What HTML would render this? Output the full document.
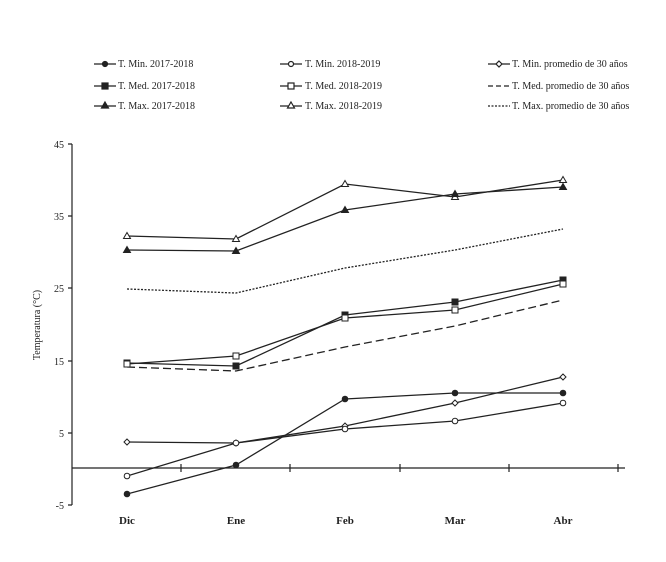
<!DOCTYPE html>
<html><head><style>body{margin:0;background:#fff}</style></head><body>
<svg width="666" height="557" xmlns="http://www.w3.org/2000/svg" font-family="Liberation Serif, serif" fill="none" stroke="#222">
<g font-size="10" fill="#222" stroke="none">
<text x="118" y="67">T. Min. 2017-2018</text><text x="305" y="67">T. Min. 2018-2019</text><text x="512" y="67">T. Min. promedio de 30 años</text>
<text x="118" y="89">T. Med. 2017-2018</text><text x="305" y="89">T. Med. 2018-2019</text><text x="512" y="89">T. Med. promedio de 30 años</text>
<text x="118" y="109">T. Max. 2017-2018</text><text x="305" y="109">T. Max. 2018-2019</text><text x="512" y="109">T. Max. promedio de 30 años</text>
</g>
<g stroke-width="1.2">
<line x1="94" y1="64" x2="116" y2="64"/><circle cx="105" cy="64" r="2.5" fill="#222"/>
<line x1="94" y1="86" x2="116" y2="86"/><rect x="102" y="83" width="6" height="6" fill="#222"/>
<line x1="94" y1="106" x2="116" y2="106"/><path d="M105 102L108.5 108H101.5Z" fill="#222"/>
<line x1="280" y1="64" x2="302" y2="64"/><circle cx="291" cy="64" r="2.5" fill="#fff"/>
<line x1="280" y1="86" x2="302" y2="86"/><rect x="288" y="83" width="6" height="6" fill="#fff"/>
<line x1="280" y1="106" x2="302" y2="106"/><path d="M291 102L294.5 108H287.5Z" fill="#fff"/>
<line x1="488" y1="64" x2="510" y2="64"/><path d="M499 61L502 64L499 67L496 64Z" fill="#fff"/>
<line x1="488" y1="86" x2="510" y2="86" stroke-dasharray="5,3"/>
<line x1="488" y1="106" x2="510" y2="106" stroke-dasharray="2,1.5"/>
</g>
<g stroke-width="1.2">
<line x1="72" y1="144" x2="72" y2="505"/>
<line x1="72" y1="468" x2="625" y2="468"/>
<path d="M68 144H72M68 216H72M68 288H72M68 361H72M68 433H72M68 505H72M181 464V472M290 464V472M400 464V472M509 464V472M618 464V472"/>
</g>
<g font-size="10" fill="#222" stroke="none" text-anchor="end">
<text x="64" y="148">45</text><text x="64" y="220">35</text><text x="64" y="292">25</text><text x="64" y="365">15</text><text x="64" y="437">5</text><text x="64" y="509">-5</text>
</g>
<g font-size="11" fill="#222" stroke="none" text-anchor="middle" font-weight="bold">
<text x="127" y="524">Dic</text><text x="236" y="524">Ene</text><text x="345" y="524">Feb</text><text x="455" y="524">Mar</text><text x="563" y="524">Abr</text>
</g>
<text x="40" y="325" font-size="10" fill="#222" stroke="none" text-anchor="middle" transform="rotate(-90 40 325)">Temperatura (°C)</text>
<g stroke-width="1.3">
<polyline points="127,236 236,239 345,184 455,197 563,180"/>
<polyline points="127,250 236,251 345,210 455,194 563,187"/>
<polyline points="127,289 236,293 345,268 455,250 563,229" stroke-dasharray="2,1.5"/>
<polyline points="127,363 236,366 345,315 455,302 563,280"/>
<polyline points="127,364 236,356 345,318 455,310 563,284"/>
<polyline points="127,367 236,371 345,347 455,326 563,300" stroke-dasharray="8,4"/>
<polyline points="127,442 236,443 345,426 455,403 563,377"/>
<polyline points="127,494 236,465 345,399 455,393 563,393"/>
<polyline points="127,476 236,443 345,429 455,421 563,403"/>
</g>
<g stroke-width="1" fill="#fff">
<path d="M127 232.5L130.5 238.5H123.5ZM236 235.5L239.5 241.5H232.5ZM345 180.5L348.5 186.5H341.5ZM455 193.5L458.5 199.5H451.5ZM563 176.5L566.5 182.5H559.5Z"/>
<path fill="#222" d="M127 246.5L130.5 252.5H123.5ZM236 247.5L239.5 253.5H232.5ZM345 206.5L348.5 212.5H341.5ZM455 190.5L458.5 196.5H451.5ZM563 183.5L566.5 189.5H559.5Z"/>
<g fill="#222"><rect x="124" y="360" width="6" height="6"/><rect x="233" y="363" width="6" height="6"/><rect x="342" y="312" width="6" height="6"/><rect x="452" y="299" width="6" height="6"/><rect x="560" y="277" width="6" height="6"/></g>
<rect x="124" y="361" width="6" height="6"/><rect x="233" y="353" width="6" height="6"/><rect x="342" y="315" width="6" height="6"/><rect x="452" y="307" width="6" height="6"/><rect x="560" y="281" width="6" height="6"/>
<path d="M127 439L130 442L127 445L124 442ZM236 440L239 443L236 446L233 443ZM345 423L348 426L345 429L342 426ZM455 400L458 403L455 406L452 403ZM563 374L566 377L563 380L560 377Z"/>
<g fill="#222"><circle cx="127" cy="494" r="2.8"/><circle cx="236" cy="465" r="2.8"/><circle cx="345" cy="399" r="2.8"/><circle cx="455" cy="393" r="2.8"/><circle cx="563" cy="393" r="2.8"/></g>
<circle cx="127" cy="476" r="2.8"/><circle cx="236" cy="443" r="2.8"/><circle cx="345" cy="429" r="2.8"/><circle cx="455" cy="421" r="2.8"/><circle cx="563" cy="403" r="2.8"/>
</g>
</svg>
</body></html>
